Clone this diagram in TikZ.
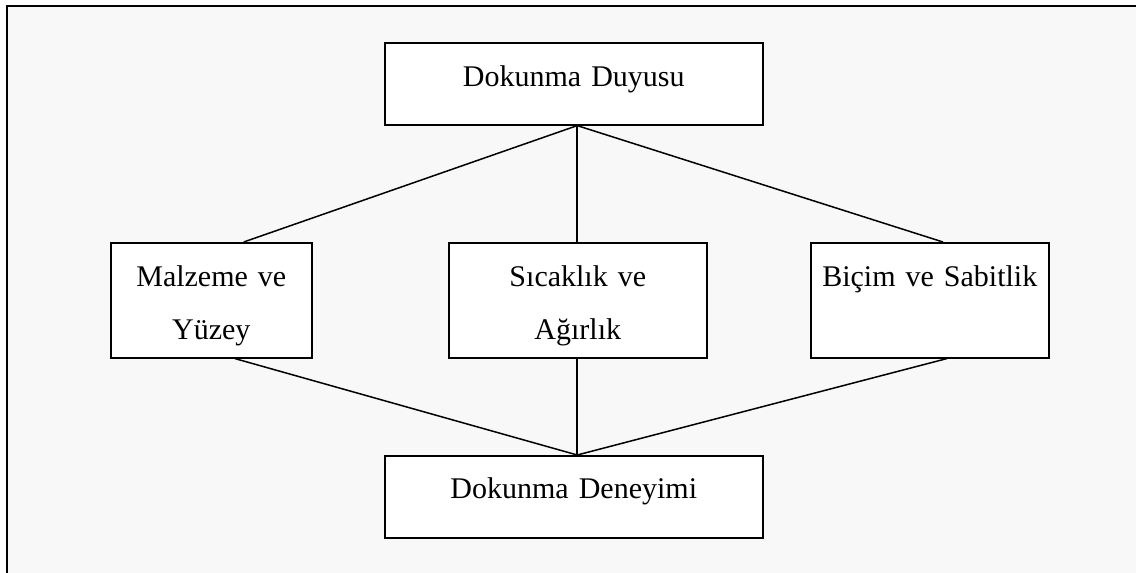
\documentclass[tikz,border=0pt]{standalone}
\usepackage{fontspec}
\setmainfont{Liberation Serif}
\usetikzlibrary{calc}
\definecolor{bgpanel}{HTML}{F8F8F8}
\tikzset{
  box/.style={draw=black, line width=1.6pt, fill=white, inner sep=0pt, align=center,
    font=\fontsize{30}{53}\selectfont, anchor=north west},
  link/.style={draw=black, line width=1.5pt},
  frame/.style={draw=black, line width=2pt}
}
\begin{document}
\begin{tikzpicture}[x=1pt, y=-1pt]
\useasboundingbox (0,0) rectangle (1136,573);
\fill[bgpanel] (7,6) rectangle (1136,573);
\coordinate (fbl) at (7,573);
\coordinate (ftl) at (7,6);
\coordinate (ftr) at (1136,6);
\draw[frame] (fbl) -- (ftl) -- (ftr);
% boxes
\node[box, text width=378pt] (top) at (384,42) {\rule{0pt}{44pt}Dokunma Duyusu\rule[-38pt]{0pt}{38pt}};
\node[box, text width=201pt] (ml) at (110,242) {\rule{0pt}{44pt}Malzeme ve\\Yüzey\rule[-18pt]{0pt}{18pt}};
\node[box, text width=258pt] (mm) at (448,242) {\rule{0pt}{44pt}Sıcaklık ve\\Ağırlık\rule[-18pt]{0pt}{18pt}};
\node[box, text width=238pt] (mr) at (810,242) {\rule{0pt}{44pt}Biçim ve Sabitlik\rule[-71pt]{0pt}{71pt}};
\node[box, text width=378pt] (bot) at (384,455) {\rule{0pt}{43pt}Dokunma Deneyimi\rule[-39pt]{0pt}{39pt}};
% connection points
\coordinate (ts) at ($(top.south west)!0.509!(top.south east)$);
\coordinate (bn) at ($(bot.north west)!0.509!(bot.north east)$);
% connectors
\draw[link] (ts) -- ($(ml.north west)!0.66!(ml.north east)$);
\draw[link] (ts) -- (mm.north -| ts);
\draw[link] (ts) -- ($(mr.north west)!0.555!(mr.north east)$);
\draw[link] ($(ml.south west)!0.617!(ml.south east)$) -- (bn);
\draw[link] (mm.south -| bn) -- (bn);
\draw[link] ($(mr.south west)!0.571!(mr.south east)$) -- (bn);
\end{tikzpicture}
\end{document}
